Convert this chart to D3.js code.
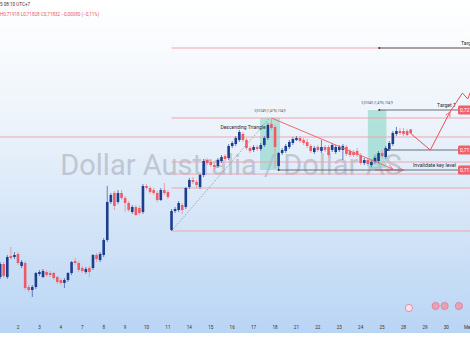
<!DOCTYPE html>
<html>
<head>
<meta charset="utf-8">
<script src="https://cdn.jsdelivr.net/npm/d3@7"></script>
<style>
body { margin: 0; background: #fff; }
svg { display: block; font-family: Roboto, "Noto Sans", sans-serif; }
</style>
</head>
<body>
<svg id="chart" width="470" height="353"></svg>
<script>
// 4H candles, AUD/USD
var open = [0.6892,0.6896,0.6922,0.6896,0.6938,0.6936,0.6942,0.6918,0.6924,0.6876,
  0.6870,0.6876,0.6902,0.6896,0.6906,0.6904,0.6904,0.6896,0.6890,0.6884,
  0.6890,0.6904,0.6928,0.6924,0.6914,0.6906,0.6914,0.6914,0.6940,0.6930,
  0.6940,0.6970,0.7046,0.7064,0.7046,0.7064,0.7054,0.7044,0.7026,0.7036,
  0.7034,0.7026,0.7078,0.7074,0.7070,0.7064,0.7050,0.7070,0.7066,0.6990,
  0.7028,0.7030,0.7040,0.7036,0.7076,0.7090,0.7086,0.7076,0.7100,0.7130,
  0.7126,0.7120,0.7118,0.7128,0.7138,0.7134,0.7158,0.7162,0.7170,0.7182,
  0.7170,0.7154,0.7150,0.7156,0.7152,0.7160,0.7174,0.7202,0.7196,0.7118,
  0.7144,0.7148,0.7156,0.7164,0.7170,0.7174,0.7170,0.7166,0.7158,0.7146,
  0.7156,0.7148,0.7156,0.7156,0.7150,0.7146,0.7150,0.7150,0.7156,0.7148,
  0.7146,0.7148,0.7140,0.7124,0.7130,0.7120,0.7126,0.7128,0.7144,0.7136,
  0.7152,0.7162,0.7182,0.7188,0.7188,0.7188,0.71912];
var high = [0.6926,0.6926,0.6926,0.6940,0.6956,0.6946,0.6946,0.6930,0.6928,0.6880,
  0.6880,0.6906,0.6910,0.6912,0.6910,0.6908,0.6906,0.6898,0.6894,0.6894,
  0.6906,0.6928,0.6934,0.6928,0.6918,0.6916,0.6918,0.6942,0.6944,0.6946,
  0.6974,0.7078,0.7064,0.7068,0.7070,0.7070,0.7058,0.7048,0.7040,0.7040,
  0.7038,0.7082,0.7082,0.7078,0.7074,0.7068,0.7074,0.7084,0.7070,0.7032,
  0.7036,0.7048,0.7044,0.7076,0.7094,0.7096,0.7090,0.7102,0.7132,0.7134,
  0.7130,0.7124,0.7134,0.7140,0.7142,0.7162,0.7168,0.7178,0.7190,0.7186,
  0.7174,0.7158,0.7160,0.7160,0.7164,0.7178,0.7204,0.7212,0.7200,0.7146,
  0.7154,0.7162,0.7170,0.7176,0.7178,0.7178,0.7174,0.7172,0.7162,0.7158,
  0.7160,0.7170,0.7160,0.7160,0.7164,0.7160,0.7160,0.7162,0.7160,0.7152,
  0.7150,0.7154,0.7144,0.7134,0.7134,0.7130,0.7138,0.7148,0.7150,0.7158,
  0.7168,0.7188,0.7196,0.7194,0.7194,0.7192,0.71918];
var low = [0.6888,0.6892,0.6894,0.6892,0.6930,0.6932,0.6920,0.6914,0.6870,0.6866,
  0.6856,0.6872,0.6898,0.6894,0.6896,0.6896,0.6890,0.6882,0.6880,0.6874,
  0.6886,0.6900,0.6920,0.6906,0.6904,0.6902,0.6896,0.6910,0.6926,0.6926,
  0.6936,0.6966,0.7042,0.7030,0.7042,0.7050,0.7026,0.7026,0.7022,0.7018,
  0.7020,0.7022,0.7070,0.7062,0.7060,0.7046,0.7048,0.7060,0.7052,0.6988,
  0.7024,0.7026,0.7022,0.7032,0.7072,0.7082,0.7074,0.7072,0.7096,0.7120,
  0.7116,0.7110,0.7114,0.7124,0.7128,0.7130,0.7154,0.7158,0.7166,0.7166,
  0.7150,0.7144,0.7146,0.7148,0.7148,0.7156,0.7170,0.7190,0.7114,0.7110,
  0.7140,0.7144,0.7152,0.7160,0.7168,0.7164,0.7160,0.7154,0.7144,0.7142,
  0.7146,0.7144,0.7146,0.7136,0.7146,0.7142,0.7146,0.7130,0.7138,0.7136,
  0.7136,0.7136,0.7120,0.7120,0.7118,0.7116,0.7122,0.7124,0.7134,0.7132,
  0.7148,0.7158,0.7178,0.7180,0.7178,0.7178,0.71828];
var close = [0.6918,0.6922,0.6898,0.6936,0.6934,0.6940,0.6924,0.6926,0.6874,0.6870,
  0.6876,0.6904,0.6906,0.6908,0.6900,0.6900,0.6894,0.6886,0.6884,0.6890,
  0.6904,0.6926,0.6924,0.6910,0.6908,0.6912,0.6906,0.6940,0.6932,0.6942,
  0.6970,0.7046,0.7060,0.7038,0.7064,0.7054,0.7044,0.7030,0.7036,0.7020,
  0.7024,0.7078,0.7074,0.7066,0.7064,0.7050,0.7070,0.7064,0.7056,0.7028,
  0.7032,0.7044,0.7030,0.7074,0.7090,0.7086,0.7080,0.7100,0.7128,0.7124,
  0.7120,0.7116,0.7130,0.7136,0.7132,0.7158,0.7164,0.7174,0.7186,0.7170,
  0.7154,0.7148,0.7156,0.7152,0.7160,0.7174,0.7200,0.7194,0.7156,0.7144,
  0.7150,0.7158,0.7166,0.7172,0.7174,0.7168,0.7164,0.7158,0.7148,0.7154,
  0.7150,0.7156,0.7150,0.7140,0.7160,0.7156,0.7156,0.7158,0.7142,0.7140,
  0.7140,0.7140,0.7124,0.7130,0.7122,0.7126,0.7134,0.7144,0.7138,0.7154,
  0.7164,0.7184,0.7188,0.7184,0.7182,0.7180,0.71832];

// day labels along the time axis and the candle they start at
var dayLabels = ["1","2","3","4","7","8","9","10","11","14","15","16","17","18","21","22","23","24","25","28","29","30","Mei"];
var dayStart = [0,6,12,18,24,30,36,42,48,54,60,66,72,78,84,90,96,102,108,114,120,126,132];

// drawn levels
var zoneLevels = [0.7354, 0.7214, 0.7126, 0.7102, 0.7074, 0.6988];  // pink, start at candle 49
var zoneStart = 49;
var rangeLevel = 0.7176;                                              // pink, full width
var keyLevels = [0.7230, 0.7150, 0.7110];                             // gray, with price tag
var keyStart = [107.2, 109.6, 79];
var keyNames = ["Target 1", "", "Invalidate key level"];
var target2 = 0.7354, target2Start = 107.2;

// pattern drawings (candle index, price)
var dottedLine = [[49, 0.6988], [76.5, 0.7214]];
var triangleLine = [[77, 0.7214], [111, 0.7112]];
var supportArrow = [[106, 0.7110], [114, 0.7110]];
var projection1 = [[116, 0.7183], [121.5, 0.7150], [127, 0.7226]];
var projection2 = [[127, 0.7226], [130.5, 0.7264], [132, 0.7252], [135, 0.7310]];
var measureBoxes = [[73.8, 79.4, 0.7214, 0.7110], [104, 109.2, 0.7230, 0.7114]];
var measureText = "0,01049 (1,47%) 104,9";

var svg = d3.select("#chart");
var W = 470, plotBottom = 333;

var x = d3.scaleLinear().domain([0, 132]).range([-3.4, 467.8]);
var y = d3.scaleLinear().domain([0.6786, 0.7450]).range([332, 0]);

// background gradient
var defs = svg.append("defs");
var grad = defs.append("linearGradient").attr("id", "bg").attr("x1", 0).attr("y1", 0).attr("x2", 0).attr("y2", 1);
grad.append("stop").attr("offset", "0%").attr("stop-color", "#ffffff");
grad.append("stop").attr("offset", "35%").attr("stop-color", "#eef4fb");
grad.append("stop").attr("offset", "100%").attr("stop-color", "#b9d5f4");
defs.append("marker").attr("id", "arrowPink").attr("viewBox", "0 0 10 10").attr("refX", 9).attr("refY", 5)
    .attr("markerWidth", 6).attr("markerHeight", 6).attr("orient", "auto")
  .append("path").attr("d", "M1,1 L9,5 L1,9").attr("fill", "none").attr("stroke", "#ef6a75").attr("stroke-width", 1.2);
defs.append("marker").attr("id", "arrowRed").attr("viewBox", "0 0 10 10").attr("refX", 9).attr("refY", 5)
    .attr("markerWidth", 6).attr("markerHeight", 6).attr("orient", "auto")
  .append("path").attr("d", "M1,1 L9,5 L1,9").attr("fill", "none").attr("stroke", "#ee4d5a").attr("stroke-width", 1.2);

svg.append("rect").attr("width", W).attr("height", plotBottom).attr("fill", "url(#bg)");

// watermark
svg.append("text").attr("x", 231).attr("y", 175).attr("text-anchor", "middle")
  .attr("font-size", 29).attr("fill", "#9aa2ad").attr("opacity", 0.5)
  .text("Dollar Australia / Dollar AS");

// measure boxes
measureBoxes.forEach(function(b) {
  svg.append("rect").attr("x", x(b[0])).attr("y", y(b[2]))
    .attr("width", x(b[1]) - x(b[0])).attr("height", y(b[3]) - y(b[2]))
    .attr("fill", "#7fd3c1").attr("opacity", 0.55);
  svg.append("text").attr("x", (x(b[0]) + x(b[1])) / 2).attr("y", y(b[2]) - 6)
    .attr("text-anchor", "middle").attr("font-size", 3.2).attr("fill", "#4a5058").text(measureText);
});

// horizontal levels
var g = svg.append("g");
g.selectAll(".zone").data(zoneLevels).enter().append("line")
  .attr("x1", x(zoneStart)).attr("x2", W)
  .attr("y1", function(d) { return y(d); }).attr("y2", function(d) { return y(d); })
  .attr("stroke", "#f0a5ab").attr("stroke-width", 1);
g.append("line").attr("x1", 0).attr("x2", W).attr("y1", y(rangeLevel)).attr("y2", y(rangeLevel))
  .attr("stroke", "#f0a5ab").attr("stroke-width", 1);

// dotted helper line and triangle
g.append("line").attr("x1", x(dottedLine[0][0])).attr("y1", y(dottedLine[0][1]))
  .attr("x2", x(dottedLine[1][0])).attr("y2", y(dottedLine[1][1]))
  .attr("stroke", "#8a929c").attr("stroke-width", 0.8).attr("stroke-dasharray", "1.5,1.5");

// candles
var idx = d3.range(open.length);
function up(i) { return close[i] >= open[i]; }
var blue = "#1d3d8e", red = "#ee5b68";
g.selectAll(".wick").data(idx).enter().append("line")
  .attr("x1", function(i) { return x(i); }).attr("x2", function(i) { return x(i); })
  .attr("y1", function(i) { return y(high[i]); }).attr("y2", function(i) { return y(low[i]); })
  .attr("stroke", function(i) { return up(i) ? "#4a64a8" : "#f08c95"; }).attr("stroke-width", 0.8);
g.selectAll(".body").data(idx).enter().append("rect")
  .attr("x", function(i) { return x(i) - 1.3; }).attr("width", 2.6)
  .attr("y", function(i) { return y(Math.max(open[i], close[i])); })
  .attr("height", function(i) { return Math.max(1, Math.abs(y(open[i]) - y(close[i]))); })
  .attr("fill", function(i) { return up(i) ? blue : red; });

g.append("line").attr("x1", x(triangleLine[0][0])).attr("y1", y(triangleLine[0][1]))
  .attr("x2", x(triangleLine[1][0])).attr("y2", y(triangleLine[1][1]))
  .attr("stroke", "#ef6a75").attr("stroke-width", 1).attr("marker-end", "url(#arrowPink)");
g.append("line").attr("x1", x(supportArrow[0][0])).attr("y1", y(supportArrow[0][1]))
  .attr("x2", x(supportArrow[1][0])).attr("y2", y(supportArrow[1][1]))
  .attr("stroke", "#ef6a75").attr("stroke-width", 1).attr("marker-end", "url(#arrowPink)");

// key levels (gray) with price tags
keyLevels.forEach(function(p, k) {
  g.append("line").attr("x1", x(keyStart[k])).attr("x2", 458).attr("y1", y(p)).attr("y2", y(p))
    .attr("stroke", "#59616b").attr("stroke-width", 0.9);
  g.append("circle").attr("cx", x(keyStart[k])).attr("cy", y(p)).attr("r", 1).attr("fill", "#333");
  if (keyNames[k]) {
    g.append("text").attr("x", 456).attr("y", y(p) - 3).attr("text-anchor", "end")
      .attr("font-size", 5.2).attr("fill", "#2a2e39").text(keyNames[k]);
  }
  g.append("rect").attr("x", 458).attr("y", y(p) - 4.5).attr("width", 16).attr("height", 9)
    .attr("rx", 1.5).attr("fill", "#ef5f6c");
  g.append("text").attr("x", 460).attr("y", y(p) + 1.8).attr("font-size", 5).attr("fill", "#fff")
    .text(d3.format(".5f")(p).replace(".", ","));
});

// target 2: pink part then gray part
g.append("line").attr("x1", x(target2Start)).attr("x2", W).attr("y1", y(target2)).attr("y2", y(target2))
  .attr("stroke", "#59616b").attr("stroke-width", 0.9);
g.append("circle").attr("cx", x(target2Start)).attr("cy", y(target2)).attr("r", 1).attr("fill", "#333");
g.append("text").attr("x", 461).attr("y", y(target2) - 3.5).attr("font-size", 5.2).attr("fill", "#2a2e39")
  .text("Target 2");

// pattern labels
g.append("text").attr("x", 243).attr("y", 129).attr("text-anchor", "middle")
  .attr("font-size", 5).attr("fill", "#2a2e39").text("Descending Triangle");

// projected path
var line = d3.line().x(function(d) { return x(d[0]); }).y(function(d) { return y(d[1]); });
g.append("path").attr("d", line(projection1)).attr("fill", "none")
  .attr("stroke", "#ee4d5a").attr("stroke-width", 1).attr("marker-end", "url(#arrowRed)");
g.append("path").attr("d", line(projection2)).attr("fill", "none")
  .attr("stroke", "#ee4d5a").attr("stroke-width", 1);

// event icons
var events = [115.5, 123, 125.5, 129.5];
g.selectAll(".ev").data(events).enter().append("circle")
  .attr("cx", function(d) { return x(d); }).attr("cy", function(d, k) { return k ? 306 : 308; })
  .attr("r", 3.6).attr("fill", function(d, k) { return k ? "#e7a3b3" : "#fbe3ea"; })
  .attr("stroke", "#e07a93").attr("stroke-width", 0.8);

// time axis
svg.append("rect").attr("y", plotBottom).attr("width", W).attr("height", 353 - plotBottom).attr("fill", "#fff");
svg.selectAll(".day").data(dayLabels).enter().append("text")
  .attr("x", function(d, k) { return x(dayStart[k]); }).attr("y", 329)
  .attr("text-anchor", "middle").attr("font-size", 4.6).attr("fill", "#333")
  .text(function(d) { return d; });

// header
svg.append("text").attr("x", 0).attr("y", 6).attr("font-size", 4.6).attr("fill", "#333").text("5 08:10 UTC+7");
svg.append("text").attr("x", 0).attr("y", 15.5).attr("font-size", 4.6).attr("fill", "#ea5a66")
  .text("H0,71918  L0,71828  C0,71832  \u22120,00080 (\u22120,11%)");
</script>
</body>
</html>
